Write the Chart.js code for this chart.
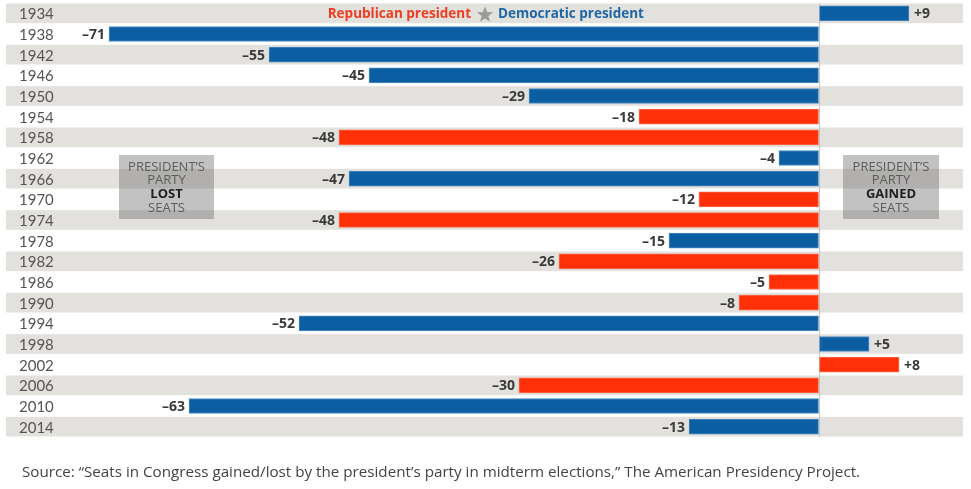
<!DOCTYPE html>
<html>
<head>
<meta charset="utf-8">
<script src="https://cdn.jsdelivr.net/npm/chart.js@4/dist/chart.umd.min.js"></script>
<style>
  html, body { margin: 0; padding: 0; background: #fff; }
  #wrap { width: 971px; height: 489px; position: relative; }
</style>
</head>
<body>
<div id="wrap"><canvas id="seats"></canvas></div>
<script>
let years = ['1934','1938','1942','1946','1950','1954','1958','1962','1966','1970','1974',
             '1978','1982','1986','1990','1994','1998','2002','2006','2010','2014'];
let seatChange = [9, -71, -55, -45, -29, -18, -48, -4, -47, -12, -48,
                  -15, -26, -5, -8, -52, 5, 8, -30, -63, -13];
let presidentParty = ['D','D','D','D','D','R','R','D','D','R','R',
                      'D','R','R','R','D','D','R','R','D','D'];

let partyColors = { D: '#0a5ea1', R: '#ff3008' };
let partyEdges = { D: '#4f8cc2', R: '#ff6a48' };
let sourceText = 'Source: \u201cSeats in Congress gained/lost by the president\u2019s party in midterm elections,\u201d The American Presidency Project.';

// gray stripes behind every other row + year labels
let stripes = {
  id: 'stripes',
  beforeDraw(chart) {
    let ctx = chart.ctx, area = chart.chartArea, y = chart.scales.y;
    let rowH = (area.bottom - area.top) / years.length;
    ctx.save();
    ctx.fillStyle = '#e3e1dd';
    years.forEach((yr, i) => {
      if (i % 2 == 0) {
        let c = y.getPixelForValue(i);
        ctx.fillRect(area.left, c - rowH / 2 + 0.5, area.right - area.left, rowH - 1);
      }
    });
    ctx.font = '15px Lato, sans-serif';
    ctx.fillStyle = '#555';
    ctx.textAlign = 'left';
    ctx.textBaseline = 'middle';
    years.forEach((yr, i) => {
      ctx.fillText(yr, area.left + 13, y.getPixelForValue(i) + 1);
    });
    ctx.restore();
  }
};

// value labels, legend, boxes, source
let extras = {
  id: 'extras',
  afterDatasetsDraw(chart) {
    let ctx = chart.ctx, x = chart.scales.x, y = chart.scales.y;
    let meta = chart.getDatasetMeta(0);
    ctx.save();
    ctx.font = 'bold 14px "Open Sans", sans-serif';
    ctx.fillStyle = '#3a3a3a';
    ctx.textBaseline = 'middle';
    meta.data.forEach((bar, i) => {
      let v = seatChange[i];
      if (v < 0) {
        ctx.textAlign = 'right';
        ctx.fillText('\u2013' + Math.abs(v), bar.x - 4, bar.y + 1);
      } else {
        ctx.textAlign = 'left';
        ctx.fillText('+' + v, bar.x + 5, bar.y + 1);
      }
    });

    // legend line at top
    let ly = y.getPixelForValue(0) + 1;
    let rep = 'Republican president';
    let dem = 'Democratic president';
    ctx.font = 'bold 13.5px "Open Sans", sans-serif';
    ctx.textAlign = 'left';
    let wr = ctx.measureText(rep).width;
    let cx = 485;
    ctx.fillStyle = '#f03c1e';
    ctx.fillText(rep, cx - 14 - wr, ly);
    ctx.fillStyle = '#1f66a6';
    ctx.fillText(dem, cx + 13, ly);
    // star
    ctx.fillStyle = '#9c9c9c';
    ctx.beginPath();
    for (let k = 0; k < 10; k++) {
      let r = k % 2 == 0 ? 8.5 : 3.6;
      let a = -Math.PI / 2 + k * Math.PI / 5;
      let px = cx + r * Math.cos(a), py = ly + 0.5 + r * Math.sin(a);
      if (k == 0) ctx.moveTo(px, py); else ctx.lineTo(px, py);
    }
    ctx.closePath();
    ctx.fill();

    // annotation boxes
    let top = y.getPixelForValue(7) - 3;
    let bottom = y.getPixelForValue(10) - 1;
    drawBox(ctx, x.getPixelForValue(-70), x.getPixelForValue(-60.5), top, bottom, 'LOST');
    drawBox(ctx, x.getPixelForValue(2.4), x.getPixelForValue(12), top, bottom, 'GAINED');

    // source line
    ctx.font = '15.2px "Open Sans", sans-serif';
    ctx.fillStyle = '#444';
    ctx.textAlign = 'left';
    ctx.textBaseline = 'alphabetic';
    ctx.fillText(sourceText, 22, 477);
    ctx.restore();
  }
};

function drawBox(ctx, l, r, t, b, word) {
  ctx.fillStyle = 'rgba(110,110,110,0.42)';
  ctx.fillRect(l, t, r - l, b - t);
  let mid = (l + r) / 2;
  ctx.textAlign = 'center';
  ctx.textBaseline = 'middle';
  ctx.font = '13px "Open Sans", sans-serif';
  ctx.fillStyle = '#5c5c5c';
  ctx.fillText('PRESIDENT\u2019S', mid, t + 12);
  ctx.fillText('PARTY', mid, t + 25);
  ctx.fillText('SEATS', mid, t + 53);
  ctx.font = 'bold 13px "Open Sans", sans-serif';
  ctx.fillStyle = '#1e1e1e';
  ctx.fillText(word, mid, t + 39);
}

new Chart(document.getElementById('seats'), {
  type: 'bar',
  data: {
    labels: years,
    datasets: [{
      data: seatChange,
      backgroundColor: presidentParty.map(p => partyColors[p]),
      borderColor: presidentParty.map(p => partyEdges[p]),
      borderWidth: 1,
      borderSkipped: false,
      barThickness: 15
    }]
  },
  options: {
    indexAxis: 'y',
    responsive: true,
    maintainAspectRatio: false,
    animation: false,
    layout: { padding: { left: 6, right: 8, top: 3, bottom: 52 } },
    plugins: { legend: { display: false }, tooltip: { enabled: false } },
    scales: {
      x: {
        min: -81.3,
        max: 14.4,
        ticks: { display: false, stepSize: 10 },
        border: { display: false },
        grid: {
          drawTicks: false,
          lineWidth: 1,
          color: ctx => ctx.tick && ctx.tick.value == 0 ? '#c4c4c4' : 'rgba(0,0,0,0)'
        }
      },
      y: {
        display: false
      }
    }
  },
  plugins: [stripes, extras]
});
</script>
</body>
</html>
